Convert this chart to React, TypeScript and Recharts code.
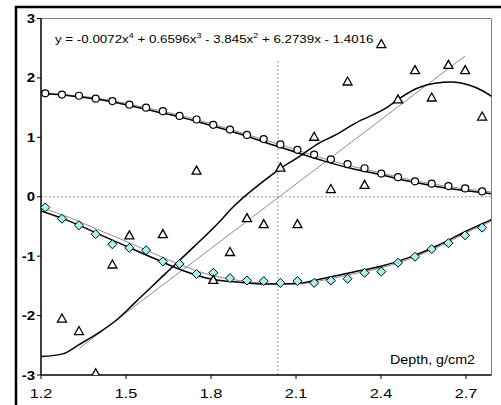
import React from "react";
import {
  ComposedChart,
  Line,
  Scatter,
  XAxis,
  YAxis,
  ReferenceLine,
  Customized,
} from "recharts";

// sample depths (g/cm2)
const depth = [
  1.215, 1.274, 1.334, 1.393, 1.452, 1.512, 1.571, 1.63, 1.689, 1.749, 1.808,
  1.867, 1.927, 1.986, 2.045, 2.105, 2.164, 2.223, 2.282, 2.342, 2.401, 2.46,
  2.52, 2.579, 2.638, 2.697, 2.757,
];

const circles = [
  1.74, 1.72, 1.7, 1.65, 1.61, 1.55, 1.5, 1.44, 1.36, 1.3, 1.21, 1.13, 1.04,
  0.97, 0.88, 0.79, 0.71, 0.63, 0.55, 0.48, 0.39, 0.33, 0.26, 0.22, 0.18, 0.14,
  0.09,
];

const diamonds = [
  -0.18, -0.37, -0.48, -0.63, -0.8, -0.86, -0.9, -1.09, -1.13, -1.3, -1.28,
  -1.37, -1.41, -1.42, -1.45, -1.42, -1.45, -1.41, -1.38, -1.28, -1.26, -1.11,
  -1.01, -0.88, -0.78, -0.65, -0.52,
];

const triangles = [
  null, -2.05, -2.26, -2.97, -1.14, -0.65, null, -0.63, null, 0.44, -1.4,
  -0.93, -0.36, -0.46, 0.49, -0.46, 1.01, 0.13, 1.94, 0.2, 2.57, 1.64, 2.13,
  1.67, 2.22, 2.13, 1.35,
];

// fitted curves
const curveX = [
  1.2, 1.3, 1.4, 1.5, 1.6, 1.7, 1.8, 1.9, 2.0, 2.1, 2.2, 2.3, 2.4, 2.5, 2.6,
  2.7, 2.79,
];
const circleFit = [
  1.74, 1.7, 1.64, 1.55, 1.44, 1.33, 1.2, 1.06, 0.9, 0.75, 0.6, 0.47, 0.37,
  0.26, 0.17, 0.1, 0.05,
];
const circleSmooth = [
  1.75, 1.71, 1.66, 1.57, 1.47, 1.36, 1.23, 1.09, 0.94, 0.79, 0.64, 0.51, 0.4,
  0.29, 0.2, 0.13, 0.08,
];
const diamondFit = [
  -0.24, -0.41, -0.62, -0.83, -1.04, -1.24, -1.385, -1.44, -1.47, -1.46, -1.37,
  -1.27, -1.17, -1.02, -0.82, -0.58, -0.385,
];
const diamondSmooth = [
  -0.18, -0.35, -0.55, -0.75, -0.96, -1.16, -1.32, -1.41, -1.46, -1.47, -1.4,
  -1.3, -1.2, -1.05, -0.85, -0.61, -0.41,
];

const triFitX = [
  1.2, 1.28, 1.33, 1.4, 1.46, 1.53, 1.64, 1.74, 1.83, 1.87, 1.99, 2.05, 2.11,
  2.18, 2.24, 2.31, 2.42, 2.47, 2.53, 2.59, 2.65, 2.71, 2.76, 2.79,
];
const triFitY = [
  -2.69, -2.64, -2.5, -2.3, -2.1, -1.79, -1.29, -0.84, -0.42, -0.21, 0.28,
  0.49, 0.67, 0.9, 1.04, 1.24, 1.5, 1.67, 1.83, 1.91, 1.93, 1.88, 1.78, 1.69,
];
const triLinX = [1.335, 2.697];
const triLinY = [-2.55, 2.37];

const xTicks = [1.2, 1.5, 1.8, 2.1, 2.4, 2.7];
const yTicks = [-3, -2, -1, 0, 1, 2, 3];
const markerDepth = 2.036;

const pts = (xs: number[], ys: (number | null)[]) =>
  xs
    .map((x, i) => ({ x, y: ys[i] }))
    .filter((p) => p.y !== null && p.y !== undefined);

const circleData = pts(depth, circles);
const diamondData = pts(depth, diamonds);
const triangleData = pts(depth, triangles);
const circleFitData = pts(curveX, circleFit);
const circleSmoothData = pts(curveX, circleSmooth);
const diamondFitData = pts(curveX, diamondFit);
const diamondSmoothData = pts(curveX, diamondSmooth);
const triFitData = pts(triFitX, triFitY);
const triLinData = pts(triLinX, triLinY);

const FONT = "'Liberation Sans', Arial, sans-serif";
const SX = 1.25;

const XTick = ({ x, y, payload }: any) => (
  <g transform={`translate(${x},${y})`}>
    <text
      x={0}
      y={0}
      dy={17}
      transform={`scale(${SX},1)`}
      textAnchor="middle"
      fontFamily={FONT}
      fontSize={13}
      fill="#000"
    >
      {payload.value}
    </text>
  </g>
);

const YTick = ({ y, payload }: any) => (
  <g transform={`translate(35,${y})`}>
    <text
      x={0}
      y={0}
      dy={4.5}
      transform={`scale(${SX},1)`}
      textAnchor="end"
      fontFamily={FONT}
      fontSize={12}
      fontWeight="bold"
      fill="#000"
    >
      {payload.value}
    </text>
  </g>
);

const CircleDot = ({ cx, cy }: any) => (
  <circle cx={cx} cy={cy} r={3.5} fill="#fff" stroke="#000" strokeWidth={1.2} />
);

const DiamondDot = ({ cx, cy }: any) => (
  <polygon
    points={`${cx},${cy - 4.5} ${cx + 4.5},${cy} ${cx},${cy + 4.5} ${cx - 4.5},${cy}`}
    fill="#a6f2f2"
    stroke="#000"
    strokeWidth={1}
  />
);

const TriangleDot = ({ cx, cy }: any) => (
  <polygon
    points={`${cx},${cy - 4.5} ${cx + 4.5},${cy + 3.5} ${cx - 4.5},${cy + 3.5}`}
    fill="#fff"
    stroke="#000"
    strokeWidth={1.3}
  />
);

// outer chart border: only left and top edges show
const Frame = () => (
  <polyline points="16,405 16,7 501,7" fill="none" stroke="#000" strokeWidth={2.5} />
);

export default function App() {
  return (
    <div style={{ position: "relative", width: 501, height: 405, background: "#fff" }}>
      <style>{"html,body{margin:0;padding:0}"}</style>

      <ComposedChart
        width={501}
        height={405}
        margin={{ top: 18.5, right: 9.5, left: 0, bottom: 0 }}
      >
        <XAxis
          type="number"
          dataKey="x"
          domain={[1.2, 2.79]}
          ticks={xTicks}
          allowDataOverflow
          height={30}
          tick={<XTick />}
          tickSize={4}
          tickLine={{ stroke: "#000" }}
          axisLine={{ stroke: "#000", strokeWidth: 1.5 }}
        />
        <YAxis
          type="number"
          dataKey="y"
          domain={[-3, 3]}
          ticks={yTicks}
          allowDataOverflow
          width={41}
          tick={<YTick />}
          tickSize={4}
          tickLine={{ stroke: "#000" }}
          axisLine={{ stroke: "#000", strokeWidth: 1.5 }}
        />

        <ReferenceLine y={3} stroke="#808080" />
        <ReferenceLine x={2.79} stroke="#808080" />
        <ReferenceLine y={0} stroke="#999" strokeDasharray="2 2" />
        <ReferenceLine
          segment={[
            { x: markerDepth, y: -3 },
            { x: markerDepth, y: 2.3 },
          ]}
          stroke="#999"
          strokeDasharray="2 2"
        />

        <Line data={circleSmoothData} dataKey="y" type="monotone" stroke="#8c8c8c" strokeWidth={1} dot={false} isAnimationActive={false} />
        <Line data={diamondSmoothData} dataKey="y" type="monotone" stroke="#8c8c8c" strokeWidth={1} dot={false} isAnimationActive={false} />
        <Line data={triLinData} dataKey="y" type="linear" stroke="#8c8c8c" strokeWidth={1} dot={false} isAnimationActive={false} />

        <Line data={circleFitData} dataKey="y" type="monotone" stroke="#000" strokeWidth={1.5} dot={false} isAnimationActive={false} />
        <Line data={diamondFitData} dataKey="y" type="monotone" stroke="#000" strokeWidth={1.5} dot={false} isAnimationActive={false} />
        <Line data={triFitData} dataKey="y" type="monotone" stroke="#000" strokeWidth={1.5} dot={false} isAnimationActive={false} />

        <Scatter data={circleData} dataKey="y" shape={<CircleDot />} isAnimationActive={false} />
        <Scatter data={diamondData} dataKey="y" shape={<DiamondDot />} isAnimationActive={false} />
        <Scatter data={triangleData} dataKey="y" shape={<TriangleDot />} isAnimationActive={false} />

        <Customized component={Frame} />
      </ComposedChart>

      {/* trendline equation */}
      <div
        style={{
          position: "absolute",
          left: 55,
          top: 29,
          fontFamily: FONT,
          fontSize: 10.5,
          whiteSpace: "nowrap",
          transform: "scaleX(1.27)",
          transformOrigin: "left top",
          lineHeight: "14px",
        }}
      >
        y = -0.0072x<sup style={{ fontSize: 7 }}>4</sup> + 0.6596x
        <sup style={{ fontSize: 7 }}>3</sup> - 3.845x<sup style={{ fontSize: 7 }}>2</sup> + 6.2739x - 1.4016
      </div>

      {/* axis title inside plot */}
      <div
        style={{
          position: "absolute",
          left: 390,
          top: 352,
          fontFamily: FONT,
          fontSize: 13,
          whiteSpace: "nowrap",
          transform: "scaleX(1.1)",
          transformOrigin: "left top",
        }}
      >
        Depth, g/cm2
      </div>
    </div>
  );
}
